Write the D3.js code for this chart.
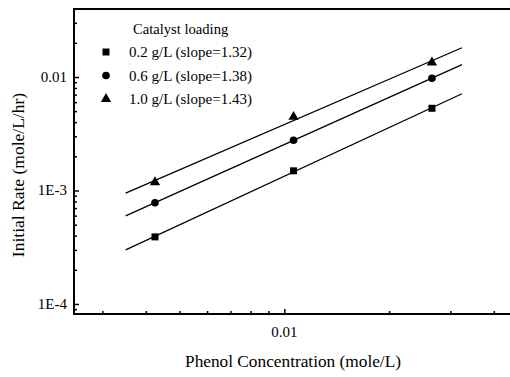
<!DOCTYPE html>
<html>
<head>
<meta charset="utf-8">
<script src="https://cdn.jsdelivr.net/npm/d3@7"></script>
<style>
  body { margin: 0; background: #fff; }
</style>
</head>
<body>
<div id="chart"></div>
<script>
// phenol concentration (mole/L) for the three runs
const phenolConc = [0.00425, 0.01063, 0.02656];
// initial rate (mole/L/hr) per catalyst loading
const rate02 = [0.00039, 0.00149, 0.0053];
const rate06 = [0.00078, 0.00277, 0.00974];
const rate10 = [0.00118, 0.00445, 0.0134];
const seriesNames = ['0.2 g/L (slope=1.32)', '0.6 g/L (slope=1.38)', '1.0 g/L (slope=1.43)'];
const seriesSymbols = ['square', 'circle', 'triangle'];
const fitRange = [0.0035, 0.0324];
const xTickValues = [0.01];
const yTickValues = [1e-4, 1e-3, 1e-2];
const yTickLabels = ['1E-4', '1E-3', '0.01'];

const width = 510, height = 377;
const plot = { left: 74, right: 510, top: 9, bottom: 314 };
const serif = '"Liberation Serif", "Times New Roman", serif';

const svg = d3.select('#chart').append('svg')
  .attr('width', width)
  .attr('height', height)
  .attr('font-family', serif);

const x = d3.scaleLog()
  .domain([0.002487, 0.04452])
  .range([plot.left, plot.right]);

const y = d3.scaleLog()
  .domain([8.16e-5, 0.03972])
  .range([plot.bottom, plot.top]);

// minor ticks
const xMinor = [];
for (let k = 3; k <= 9; k++) xMinor.push(k * 0.001);
for (let k = 2; k <= 4; k++) xMinor.push(k * 0.01);
const yMinor = [];
[1e-4, 1e-3, 1e-2].forEach(d => { for (let k = 2; k <= 9; k++) if (k * d < 0.0397) yMinor.push(k * d); });
yMinor.push(9e-5);

// x axis
const gx = svg.append('g').attr('transform', `translate(0,${plot.bottom})`);
gx.call(d3.axisTop(x).tickValues(xMinor).tickSize(3).tickFormat(''));
gx.append('g').call(d3.axisTop(x).tickValues(xTickValues).tickSize(5).tickFormat(''));
gx.selectAll('.domain').remove();
gx.selectAll('line').attr('stroke', '#000').attr('stroke-width', 1.5);
svg.append('g')
  .attr('transform', `translate(0,${plot.bottom})`)
  .selectAll('text')
  .data(xTickValues)
  .enter().append('text')
  .attr('x', d => x(d))
  .attr('y', 23)
  .attr('text-anchor', 'middle')
  .style('font-size', '15px')
  .text('0.01');

// y axis
const gy = svg.append('g').attr('transform', `translate(${plot.left},0)`);
gy.call(d3.axisRight(y).tickValues(yMinor).tickSize(3).tickFormat(''));
gy.append('g').call(d3.axisRight(y).tickValues(yTickValues).tickSize(5).tickFormat(''));
gy.selectAll('.domain').remove();
gy.selectAll('line').attr('stroke', '#000').attr('stroke-width', 1.5);
svg.append('g')
  .selectAll('text')
  .data(yTickValues)
  .enter().append('text')
  .attr('x', plot.left - 7)
  .attr('y', d => y(d) + 5)
  .attr('text-anchor', 'end')
  .style('font-size', '15px')
  .text((d, i) => yTickLabels[i]);

// frame: left, top, bottom
svg.append('path')
  .attr('d', `M${plot.right},${plot.top}H${plot.left}V${plot.bottom}H${plot.right}`)
  .attr('fill', 'none')
  .attr('stroke', '#000')
  .attr('stroke-width', 2);

// fitted lines (least squares in log space)
const allRates = [rate02, rate06, rate10];
const line = d3.line().x(d => x(d[0])).y(d => y(d[1]));
allRates.forEach(rates => {
  const lx = phenolConc.map(Math.log10), ly = rates.map(Math.log10);
  const mx = d3.mean(lx), my = d3.mean(ly);
  const slope = d3.sum(lx, (v, i) => (v - mx) * (ly[i] - my)) / d3.sum(lx, v => (v - mx) * (v - mx));
  const icpt = my - slope * mx;
  const pts = fitRange.map(v => [v, Math.pow(10, icpt + slope * Math.log10(v))]);
  svg.append('path')
    .attr('d', line(pts))
    .attr('fill', 'none')
    .attr('stroke', '#000')
    .attr('stroke-width', 1.3);
});

// markers
const symbolTypes = { square: d3.symbolSquare, circle: d3.symbolCircle, triangle: d3.symbolTriangle };
const symbolSizes = { square: 49, circle: 46, triangle: 46 };
function drawSymbol(g, name, cx, cy) {
  g.append('path')
    .attr('d', d3.symbol().type(symbolTypes[name]).size(symbolSizes[name])())
    .attr('transform', `translate(${cx},${cy})`)
    .attr('fill', '#000');
}
allRates.forEach((rates, s) => {
  const g = svg.append('g');
  rates.forEach((r, i) => drawSymbol(g, seriesSymbols[s], x(phenolConc[i]), y(r)));
});

// legend
const legend = svg.append('g');
legend.append('text')
  .attr('x', 133)
  .attr('y', 34)
  .style('font-size', '14.6px')
  .text('Catalyst loading');
seriesNames.forEach((name, i) => {
  const ly = 52 + i * 23.5;
  drawSymbol(legend, seriesSymbols[i], 106, ly);
  legend.append('text')
    .attr('x', 129)
    .attr('y', ly + 5)
    .style('font-size', '15px')
    .text(name);
});

// axis titles
svg.append('text')
  .attr('x', 293)
  .attr('y', 367)
  .attr('text-anchor', 'middle')
  .style('font-size', '17.3px')
  .text('Phenol Concentration (mole/L)');

svg.append('text')
  .attr('transform', `translate(24,${175}) rotate(-90)`)
  .attr('text-anchor', 'middle')
  .style('font-size', '17.5px')
  .text('Initial Rate (mole/L/hr)');
</script>
</body>
</html>
